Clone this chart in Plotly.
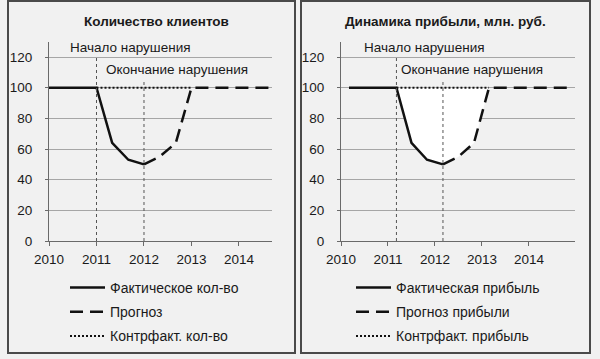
import plotly.graph_objects as go

# ---------------- data ----------------
# Left panel: number of clients
clients_actual_x = [2010, 2011, 2011.33, 2011.67, 2012]
clients_actual_y = [100, 100, 64, 53, 50]
clients_forecast_x = [2012, 2012.33, 2012.67, 2013, 2014.69]
clients_forecast_y = [50, 55, 64, 100, 100]
clients_counter_x = [2011, 2013]
clients_counter_y = [100, 100]
clients_events_x = [2011, 2012]          # start / end of violation
clients_events_top = [120, 105]

# Right panel: profit dynamics, mln rub
profit_actual_x = [2010.17, 2011.18, 2011.5, 2011.83, 2012.17]
profit_actual_y = [100, 100, 64, 53, 50]
profit_forecast_x = [2012.17, 2012.5, 2012.83, 2013.15, 2014.83]
profit_forecast_y = [50, 55, 64, 100, 100]
profit_counter_x = [2011.18, 2013.15]
profit_counter_y = [100, 100]
profit_events_x = [2011.18, 2012.17]
profit_events_top = [120, 105]

titles = ["Количество клиентов", "Динамика прибыли, млн. руб."]
event_labels = ["Начало нарушения", "Окончание нарушения"]
legend_left = ["Фактическое кол-во", "Прогноз", "Контрфакт. кол-во"]
legend_right = ["Фактическая прибыль", "Прогноз прибыли", "Контрфакт. прибыль"]
year_ticks = [2010, 2011, 2012, 2013, 2014]
y_ticks = [0, 20, 40, 60, 80, 100, 120]

# ---------------- layout helpers ----------------
W, H = 600, 359
def fx(px):
    return px / W
def fy(py):
    return 1 - py / H

FONT = "Liberation Sans, Arial, sans-serif"
TXT = "#1a1a1a"
BG = "#f1f1f1"
AX = "#6a6a6a"
GRID = "#a6a6a6"
DASH = "13px,7px"
DOT = "2px,2px"

fig = go.Figure()

# white fill (right panel) between counterfactual and actual+forecast
fill_x = profit_actual_x[1:] + profit_forecast_x[1:4]
fill_y = profit_actual_y[1:] + profit_forecast_y[1:4]
fig.add_trace(go.Scatter(x=profit_counter_x, y=profit_counter_y, mode="lines",
                         line=dict(width=0), showlegend=False, hoverinfo="skip",
                         xaxis="x2", yaxis="y2"))
fig.add_trace(go.Scatter(x=fill_x, y=fill_y, mode="lines", fill="tonexty",
                         fillcolor="white", line=dict(width=0), showlegend=False,
                         hoverinfo="skip", xaxis="x2", yaxis="y2"))

def add_panel(ax, ay, leg, names, ax_x, ay_y, fx_x, fy_y, cx, cy):
    fig.add_trace(go.Scatter(x=ax_x, y=ay_y, mode="lines", name=names[0],
                             line=dict(color="#111", width=2.5),
                             xaxis=ax, yaxis=ay, legend=leg,
                             legendgroup=leg + "a"))
    fig.add_trace(go.Scatter(x=fx_x, y=fy_y, mode="lines", name=names[1],
                             line=dict(color="#111", width=2.5, dash=DASH),
                             xaxis=ax, yaxis=ay, legend=leg,
                             legendgroup=leg + "b"))
    fig.add_trace(go.Scatter(x=cx, y=cy, mode="lines", name=names[2],
                             line=dict(color="#111", width=2, dash=DOT),
                             xaxis=ax, yaxis=ay, legend=leg,
                             legendgroup=leg + "c"))

add_panel("x", "y", "legend", legend_left, clients_actual_x, clients_actual_y,
          clients_forecast_x, clients_forecast_y, clients_counter_x, clients_counter_y)
add_panel("x2", "y2", "legend2", legend_right, profit_actual_x, profit_actual_y,
          profit_forecast_x, profit_forecast_y, profit_counter_x, profit_counter_y)

shapes = []
for xr, yr, xs, tops in [("x", "y", clients_events_x, clients_events_top),
                         ("x2", "y2", profit_events_x, profit_events_top)]:
    for xv, top in zip(xs, tops):
        shapes.append(dict(type="line", xref=xr, yref=yr, x0=xv, x1=xv, y0=0, y1=top,
                           line=dict(color="#555", width=1, dash="dot")))
# panel borders
for x0, x1 in [(8, 295), (301, 590)]:
    shapes.append(dict(type="rect", xref="paper", yref="paper",
                       x0=fx(x0), x1=fx(x1), y0=fy(353), y1=fy(1),
                       line=dict(color="#4a4a4a", width=2), layer="above"))

annotations = []
for cx, t in [(156, titles[0]), (445, titles[1])]:
    annotations.append(dict(xref="paper", yref="paper", x=fx(cx), y=fy(22),
                            text="<b>" + t + "</b>", showarrow=False,
                            font=dict(size=13.5, color=TXT, family=FONT),
                            xanchor="center", yanchor="middle"))
for c1, c2 in [(130, 177), (424, 472)]:
    annotations.append(dict(xref="paper", yref="paper", x=fx(c1), y=fy(47),
                            text=event_labels[0], showarrow=False,
                            font=dict(size=13.5, color=TXT, family=FONT),
                            xanchor="center", yanchor="middle"))
    annotations.append(dict(xref="paper", yref="paper", x=fx(c2), y=fy(70),
                            text=event_labels[1], showarrow=False,
                            font=dict(size=13.5, color=TXT, family=FONT),
                            xanchor="center", yanchor="middle"))

def xaxis_cfg(d0, d1, rmax, anchor):
    return dict(domain=[fx(d0), fx(d1)], range=[2010, rmax], anchor=anchor,
                tickmode="array", tickvals=year_ticks, ticktext=[str(v) for v in year_ticks],
                showgrid=False, zeroline=False, showline=True, linecolor=AX, linewidth=1,
                ticks="outside", ticklen=4, tickcolor=AX, ticklabelstandoff=2,
                automargin=False,
                tickfont=dict(size=13.5, color=TXT, family=FONT), fixedrange=True)

def yaxis_cfg(anchor):
    return dict(domain=[fy(241), fy(42)], range=[0, 129.8], anchor=anchor,
                tickmode="array", tickvals=y_ticks,
                showgrid=True, gridcolor=GRID, gridwidth=1, zeroline=False,
                showline=True, linecolor=AX, linewidth=1,
                ticks="outside", ticklen=3, tickcolor=AX, ticklabelstandoff=10,
                automargin=False,
                tickfont=dict(size=13.5, color=TXT, family=FONT), fixedrange=True)

leg_common = dict(orientation="v", xanchor="left", yanchor="top",
                  bgcolor="rgba(0,0,0,0)", borderwidth=0, tracegroupgap=3,
                  font=dict(size=14, color=TXT, family=FONT), itemwidth=35,
                  traceorder="grouped")

fig.update_layout(
    template="none",
    width=W, height=H, autosize=False,
    margin=dict(l=0, r=0, t=0, b=0, autoexpand=False),
    paper_bgcolor=BG, plot_bgcolor=BG,
    font=dict(family=FONT, color=TXT),
    showlegend=True,
    xaxis=xaxis_cfg(49, 272, 2014.695, "y"),
    yaxis=yaxis_cfg("x"),
    xaxis2=xaxis_cfg(341, 575, 2014.98, "y2"),
    yaxis2=yaxis_cfg("x2"),
    legend=dict(x=fx(65), y=fy(272), **leg_common),
    legend2=dict(x=fx(351), y=fy(272), **leg_common),
    shapes=shapes, annotations=annotations,
)

fig.write_html("out.html", config={"displayModeBar": False},
               post_script="document.body.style.margin='0px';")
